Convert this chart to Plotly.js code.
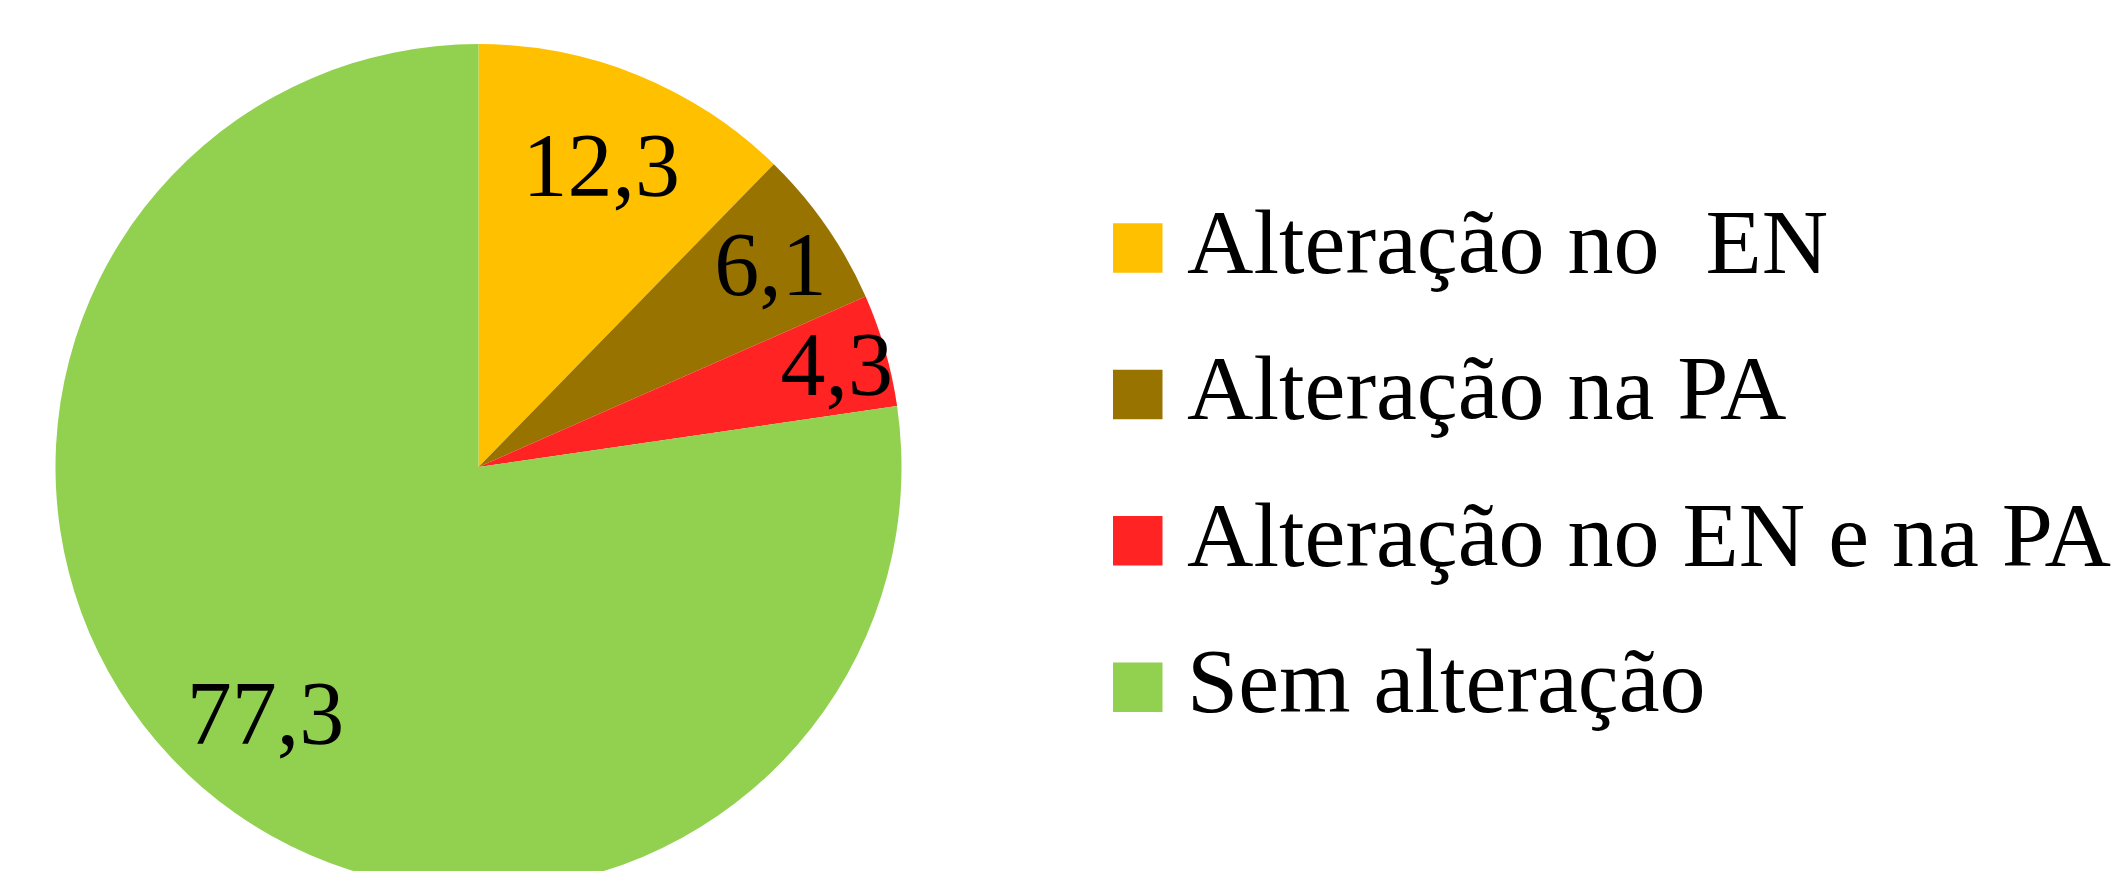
<!DOCTYPE html>
<html>
<head>
<meta charset="utf-8">
<script src="https://cdn.plot.ly/plotly-3.0.1.min.js"></script>
<style>
  html, body { margin: 0; padding: 0; overflow: hidden; background: #ffffff; }
  #chart { width: 2126px; height: 890px; }
</style>
</head>
<body>
<div id="chart"></div>
<script>
// ---- data ----
const categories = ['Alteração no  EN', 'Alteração na PA', 'Alteração no EN e na PA', 'Sem alteração'];
const values = [12.3, 6.1, 4.3, 77.3];
const colors = ['#FFC000', '#997300', '#FF2323', '#92D050'];

// ---- layout geometry (pixels) ----
const W = 2126;
const FONT = 'Liberation Serif, "Times New Roman", serif';
const PIE_CX = 478.5, PIE_R = 423, PIE_TOP = 44;
const H = PIE_TOP + 2 * PIE_R;   // the pie runs past the bottom of the 871px window, as in the original
const px = x => x / W;
const py = y => 1 - (y - PIE_TOP) / (H - PIE_TOP);
const LEG_X = 1113, LEG_Y0 = 248, LEG_DY = 146.4, SW = 49.5, TEXT_X = 1185;
const pieDomain = { x: [px(PIE_CX - PIE_R), px(PIE_CX + PIE_R)], y: [0, 1] };

// slices
const pie = {
  type: 'pie',
  labels: categories,
  values: values,
  sort: false,
  direction: 'clockwise',
  rotation: 0,
  marker: { colors: colors, line: { width: 0 } },
  textinfo: 'none',
  hoverinfo: 'label+value',
  showlegend: false,
  domain: pieDomain
};

// value labels (same data, transparent slices; the ring only sets where the labels sit)
const pieLabels = {
  type: 'pie',
  labels: categories,
  values: values,
  sort: false,
  direction: 'clockwise',
  rotation: 0,
  hole: 0.54,
  marker: { colors: categories.map(() => 'rgba(0,0,0,0)'), line: { width: 0 } },
  texttemplate: '%{value:.1f}',
  textposition: 'inside',
  insidetextorientation: 'horizontal',
  textfont: { family: FONT, size: 90, color: '#000000' },
  insidetextfont: { family: FONT, size: 90, color: '#000000' },
  hoverinfo: 'skip',
  showlegend: false,
  domain: pieDomain
};

const shapes = categories.map((c, i) => ({
  type: 'rect', xref: 'paper', yref: 'paper', layer: 'above',
  x0: px(LEG_X), x1: px(LEG_X + SW),
  y0: py(LEG_Y0 + i * LEG_DY + SW / 2), y1: py(LEG_Y0 + i * LEG_DY - SW / 2),
  fillcolor: colors[i], line: { width: 0 }
}));

const annotations = categories.map((c, i) => ({
  xref: 'paper', yref: 'paper',
  x: px(TEXT_X), y: py(LEG_Y0 + i * LEG_DY - 6),
  xanchor: 'left', yanchor: 'middle',
  text: c, showarrow: false,
  font: { family: FONT, size: 92, color: '#000000' }
}));

const layout = {
  width: W, height: H,
  margin: { l: 0, r: 0, t: PIE_TOP, b: 0, pad: 0 },
  paper_bgcolor: '#ffffff', plot_bgcolor: '#ffffff',
  separators: ', ',
  showlegend: false,
  uniformtext: { mode: 'show', minsize: 90 },
  shapes: shapes,
  annotations: annotations,
  font: { family: FONT }
};

Plotly.newPlot('chart', [pie, pieLabels], layout, { displayModeBar: false, staticPlot: true });
</script>
</body>
</html>
